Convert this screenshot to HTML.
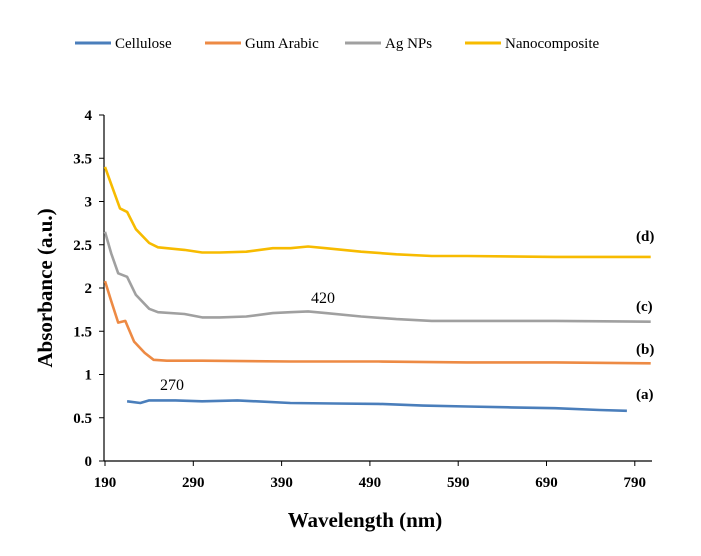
<!DOCTYPE html>
<html><head><meta charset="utf-8"><style>
body{margin:0;background:#fff;}
svg{display:block;font-family:"Liberation Serif",serif;}
</style></head><body>
<svg id="c" width="701" height="556"></svg>
<script>
const seriesNames=["Cellulose","Gum Arabic","Ag NPs","Nanocomposite"];
const colors=["#4a7ebb","#ed8a44","#a0a0a0","#f7bb00"];
const cellWl=[215,230,240,270,300,340,400,450,500,550,600,650,700,750,781];
const cellAbs=[0.69,0.67,0.70,0.70,0.69,0.70,0.67,0.665,0.66,0.64,0.63,0.62,0.61,0.59,0.58];
const gumWl=[190,197,205,213,223,235,245,260,300,400,500,600,700,808];
const gumAbs=[2.08,1.85,1.60,1.62,1.38,1.25,1.17,1.16,1.16,1.15,1.15,1.14,1.14,1.13];
const agWl=[190,197,205,215,225,240,250,280,300,320,350,380,400,420,440,480,520,560,700,808];
const agAbs=[2.65,2.40,2.17,2.13,1.92,1.76,1.72,1.70,1.66,1.66,1.67,1.71,1.72,1.73,1.71,1.67,1.64,1.62,1.62,1.61];
const nanoWl=[190,197,207,215,225,240,250,280,300,320,350,380,400,420,440,480,520,560,600,700,808];
const nanoAbs=[3.40,3.20,2.92,2.88,2.68,2.52,2.47,2.44,2.41,2.41,2.42,2.46,2.46,2.48,2.46,2.42,2.39,2.37,2.37,2.36,2.36];
const xTicks=[190,290,390,490,590,690,790];
const yTicks=[0,0.5,1,1.5,2,2.5,3,3.5,4];
const curveLabels=["(a)","(b)","(c)","(d)"];
const NS="http://www.w3.org/2000/svg";
const svg=document.getElementById("c");
const X=v=>105+(v-190)*0.883;
const Y=v=>461-v*86.5;
function mk(t,a,txt){const e=document.createElementNS(NS,t);for(const k in a)e.setAttribute(k,a[k]);if(txt!==undefined)e.textContent=txt;svg.appendChild(e);return e;}
// axes
let e=mk("line",{x1:104,y1:Y(0),x2:652,y2:Y(0),stroke:"#000","stroke-width":1.2});


e=mk("line",{x1:104,y1:Y(0),x2:104,y2:Y(4),stroke:"#000","stroke-width":1.2});


xTicks.forEach(t=>{
 mk("line",{x1:X(t),y1:Y(0),x2:X(t),y2:Y(0)+5,stroke:"#000"});
 e=mk("text",{x:X(t),y:487,"text-anchor":"middle","font-size":15,"font-weight":"bold"},t);
 
 
});
yTicks.forEach(t=>{
 mk("line",{x1:99,y1:Y(t),x2:104,y2:Y(t),stroke:"#000"});
 e=mk("text",{x:92,y:Y(t)+5,"text-anchor":"end","font-size":15,"font-weight":"bold"},t);
 
 
});
e=mk("text",{x:365,y:527,"text-anchor":"middle","font-size":21,"font-weight":"bold"},"Wavelength (nm)");


e=mk("text",{x:0,y:0,"text-anchor":"middle","font-size":21,"font-weight":"bold",transform:"translate(52,288) rotate(-90)"},"Absorbance (a.u.)");


const data=[[cellWl,cellAbs],[gumWl,gumAbs],[agWl,agAbs],[nanoWl,nanoAbs]];
data.forEach((d,i)=>{
 const pts=d[0].map((w,j)=>X(w).toFixed(1)+","+Y(d[1][j]).toFixed(1)).join(" ");
 const p=mk("polyline",{points:pts,fill:"none",stroke:colors[i],"stroke-width":2.6,"stroke-linejoin":"round"});
 
 
});
const labY=[393,348,305,235];
curveLabels.forEach((l,i)=>{
 e=mk("text",{x:636,y:labY[i]+6,"font-size":15,"font-weight":"bold"},l);
 
 
});
e=mk("text",{x:172,y:390,"text-anchor":"middle","font-size":16},"270");


e=mk("text",{x:323,y:303,"text-anchor":"middle","font-size":16},"420");


const legX=[75,205,345,465];
seriesNames.forEach((n,i)=>{
 mk("line",{x1:legX[i],y1:43,x2:legX[i]+36,y2:43,stroke:colors[i],"stroke-width":3});
 e=mk("text",{x:legX[i]+40,y:48,"font-size":15},n);
 
 
});
</script>
</body></html>
